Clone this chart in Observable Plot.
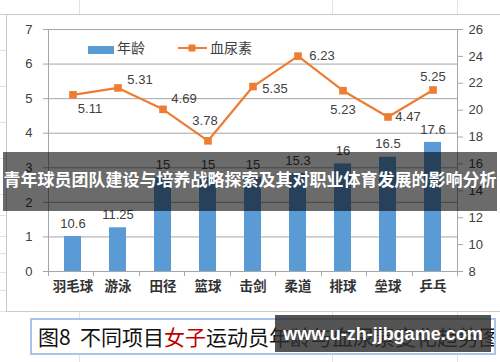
<!DOCTYPE html>
<html>
<head>
<meta charset="utf-8">
<script src="https://cdn.jsdelivr.net/npm/d3@7"></script>
<script src="https://cdn.jsdelivr.net/npm/@observablehq/plot@0.6"></script>
<style>
  html, body { margin: 0; padding: 0; background: #fff; }
  #wrap { position: relative; width: 500px; height: 362px; overflow: hidden; background: #fff; font-family: "Noto Sans CJK SC", sans-serif; }
  .abs { position: absolute; }
  #frame { left: 6px; top: 14px; width: 520px; height: 296px; border: 1px solid #c9c9c9; background: #fff; }
  #plot { left: 0; top: 0; }
  .legtext { font-size: 14px; color: #404040; line-height: 16px; }
  #banner { left: 3px; top: 152px; width: 494px; height: 59px; background: rgba(0,0,0,0.58); }
  #bannerText { position: absolute; left: 0; top: 0; color: #fff; font-weight: 700; font-size: 16px; line-height: 59px; white-space: nowrap; }
  #caption { left: 30px; top: 318px; width: 456px; height: 33px; border: 2px solid #aac3ea; background: #fff; font-size: 21px; line-height: 33px; color: #111; white-space: nowrap; overflow: hidden; padding-left: 6px; box-sizing: content-box; }
  #caption .red { color: #c00000; }
  #mark { left: 275px; top: 315px; width: 216px; height: 37px; background: rgba(45,45,45,0.82); color: #fff; font-family: "Liberation Sans", Arial, sans-serif; font-weight: 700; font-size: 18px; line-height: 38px; text-align: center; white-space: nowrap; }
</style>
</head>
<body>
<div id="wrap">
  <svg class="abs" id="sheet" width="500" height="362" style="left:0;top:0"></svg>
  <div class="abs" id="frame"></div>
  <div class="abs" id="plot"></div>
  <div class="abs" style="left:88px;top:46px;width:26px;height:8px;background:#5B9BD5"></div>
  <div class="abs legtext" style="left:117px;top:39px">年龄</div>
  <svg class="abs" style="left:176px;top:42px" width="34" height="12">
    <line x1="2" y1="6" x2="31" y2="6" stroke="#ED7D31" stroke-width="2"></line>
    <rect x="12.5" y="2.5" width="7" height="7" fill="#ED7D31"></rect>
  </svg>
  <div class="abs legtext" style="left:210px;top:39px">血尿素</div>
  <div class="abs" id="banner"><span id="bannerText">青年球员团队建设与培养战略探索及其对职业体育发展的影响分析</span></div>
  <div class="abs" id="caption">图8&nbsp; 不同项目<span class="red">女子</span>运动员年龄与血尿素变化趋势图</div>
  <div class="abs" id="mark">www.u-zh-jjbgame.com</div>
</div>
<script>
// ---- data ----
const sports = ["羽毛球", "游泳", "田径", "篮球", "击剑", "柔道", "排球", "垒球", "乒乓"];
const ages = [10.6, 11.25, 15, 15, 15, 15.3, 16, 16.5, 17.6];
const urea = [5.11, 5.31, 4.69, 3.78, 5.35, 6.23, 5.23, 4.47, 5.25];
const leftTicks = [0, 1, 2, 3, 4, 5, 6, 7];
const rightTicks = [8, 10, 12, 14, 16, 18, 20, 22, 24, 26];

// ---- background sheet lines (decoration) ----
(function () {
  const s = d3.select("#sheet");
  [79, 332, 457].forEach(x => {
    s.append("line").attr("x1", x + 0.5).attr("x2", x + 0.5).attr("y1", 0).attr("y2", 362).attr("stroke", "#e3e3e3");
  });
  [14, 50, 86, 122, 158, 194, 215, 236, 253, 272, 290, 311].forEach(y => {
    s.append("line").attr("x1", 0).attr("x2", 6).attr("y1", y + 0.5).attr("y2", y + 0.5).attr("stroke", "#e3e3e3");
  });
  s.append("line").attr("x1", 0).attr("x2", 500).attr("y1", 14.5).attr("y2", 14.5).attr("stroke", "#d0d0d0");
})();

// ---- banner text fitted to the banner width ----
(function () {
  const t = document.getElementById("bannerText");
  const target = 493;
  const w = t.getBoundingClientRect().width;
  if (w > 0) {
    const fs = 16 * target / w;
    t.style.fontSize = fs.toFixed(2) + "px";
  }
  const w2 = t.getBoundingClientRect().width;
  t.style.left = ((494 - w2) / 2).toFixed(1) + "px";
  t.style.top = "-3px";
})();

// ---- scales mapping: right axis (age 8..26) onto left domain (0..7) ----
const ageLo = 8, ageHi = 26, ureaHi = 7;
const ageToY = v => (v - ageLo) * ureaHi / (ageHi - ageLo);
const yToAge = v => v * (ageHi - ageLo) / ureaHi + ageLo;

const idx = d3.range(sports.length);
const gray = "#a6a6a6";
const txt = "#404040";
const numFont = "'Liberation Sans', Arial, sans-serif";

// label offsets for line values (styling, per point)
const ureaLabelOffsets = [[17, 14], [22, -8], [21, -11], [-3, -20], [22, 2], [24, 0], [0, 19], [20, 0], [0, -13]];

function axesDecor(index, scales, values, dims) {
  const {width, height, marginLeft, marginRight, marginBottom} = dims;
  const g = d3.create("svg:g");
  const x0 = marginLeft, x1 = width - marginRight, yb = height - marginBottom;
  const step = (x1 - x0) / sports.length;
  g.append("line").attr("x1", x0 + 0.5).attr("x2", x0 + 0.5).attr("y1", dims.marginTop).attr("y2", yb).attr("stroke", gray);
  g.append("line").attr("x1", x1 + 0.5).attr("x2", x1 + 0.5).attr("y1", dims.marginTop).attr("y2", yb).attr("stroke", gray);
  g.append("line").attr("x1", x0).attr("x2", x1).attr("y1", yb + 0.5).attr("y2", yb + 0.5).attr("stroke", gray);
  for (let i = 0; i <= sports.length; i++) {
    const x = Math.round(x0 + i * step) + 0.5;
    g.append("line").attr("x1", x).attr("x2", x).attr("y1", yb).attr("y2", yb + 5).attr("stroke", gray);
  }
  return g.node();
}

const plot = Plot.plot({
  width: 500,
  height: 311,
  marginLeft: 48,
  marginRight: 43,
  marginTop: 29,
  marginBottom: 40,
  style: {background: "transparent", fontFamily: numFont},
  x: {type: "band", domain: sports, paddingInner: 0.62, paddingOuter: 0.31},
  y: {domain: [0, ureaHi]},
  marks: [
    Plot.gridY(leftTicks.slice(1), {stroke: gray, strokeOpacity: 1}),
    Plot.axisY(leftTicks, {anchor: "left", tickSize: 5, tickPadding: 11, stroke: gray, fill: txt, fontSize: 13, label: null}),
    Plot.axisY(rightTicks.map(ageToY), {anchor: "right", tickSize: 5, tickPadding: 6, stroke: gray, fill: txt, fontSize: 13, label: null, tickFormat: d => String(Math.round(yToAge(d)))}),
    Plot.axisX({tickSize: 0, tickPadding: 10, fill: "#333", fontSize: 13.5, fontWeight: 700, fontFamily: "'Noto Sans CJK SC', sans-serif", label: null}),
    Plot.barY(idx, {x: i => sports[i], y1: 0, y2: i => ageToY(ages[i]), fill: "#5B9BD5"}),
    Plot.text(idx, {x: i => sports[i], y: i => ageToY(ages[i]), text: i => String(ages[i]), dy: -13, fill: txt, fontSize: 13}),
    Plot.line(idx, {x: i => sports[i], y: i => urea[i], stroke: "#ED7D31", strokeWidth: 2.2}),
    Plot.dot(idx, {x: i => sports[i], y: i => urea[i], symbol: "square", r: 4.3, fill: "#ED7D31", stroke: "none"}),
    ...idx.map(i => Plot.text([i], {x: j => sports[j], y: j => urea[j], text: j => String(urea[j]), dx: ureaLabelOffsets[i][0], dy: ureaLabelOffsets[i][1], fill: txt, fontSize: 13})),
    axesDecor
  ]
});
document.getElementById("plot").appendChild(plot);
</script>
</body>
</html>
